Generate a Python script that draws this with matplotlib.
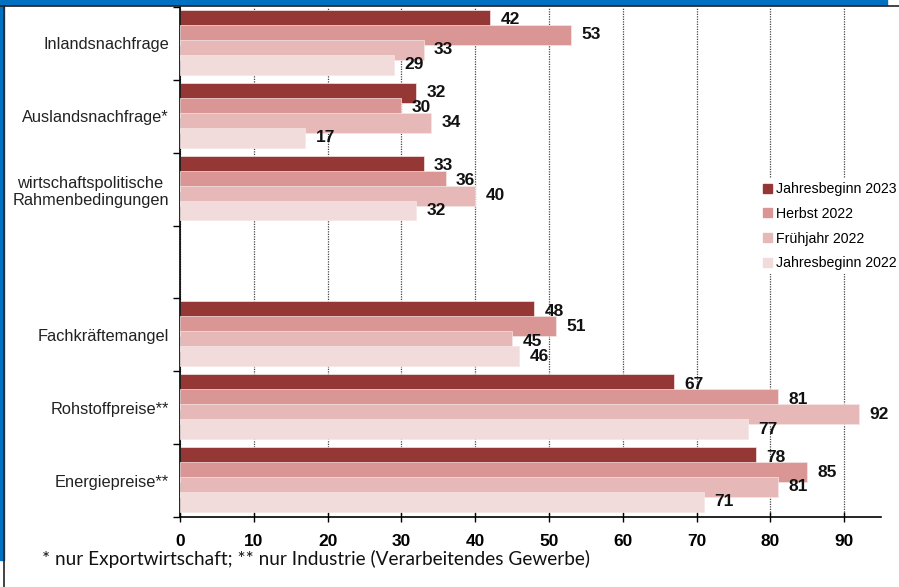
import matplotlib.pyplot as plt
import matplotlib
import numpy as np
from matplotlib.patches import Rectangle
from matplotlib.lines import Line2D

matplotlib.rcParams['font.family'] = ['Liberation Sans', 'DejaVu Sans']

# Categories (top to bottom), empty slot separates the two groups
categories = [
    'Inlandsnachfrage',
    'Auslandsnachfrage*',
    'wirtschaftspolitische\nRahmenbedingungen',
    '',
    'Fachkräftemangel',
    'Rohstoffpreise**',
    'Energiepreise**',
]
series_names = ['Jahresbeginn 2023', 'Herbst 2022', 'Frühjahr 2022', 'Jahresbeginn 2022']
jahresbeginn_2023 = [42, 32, 33, None, 48, 67, 78]
herbst_2022 = [53, 30, 36, None, 51, 81, 85]
fruehjahr_2022 = [33, 34, 40, None, 45, 92, 81]
jahresbeginn_2022 = [29, 17, 32, None, 46, 77, 71]
series_values = [jahresbeginn_2023, herbst_2022, fruehjahr_2022, jahresbeginn_2022]
colors = ['#953735', '#d99694', '#e6b9b8', '#f2dcdb']
footnote = '* nur Exportwirtschaft; ** nur Industrie (Verarbeitendes Gewerbe)'

W, H = 899, 587
fig = plt.figure(figsize=(W / 100, H / 100), dpi=100)

# slide frame: blue band on top and left, thin dark rule next to it
fig.patches.append(Rectangle((0, 1 - 5 / H), 887 / W, 5 / H, transform=fig.transFigure,
                             color='#0070c0', zorder=0))
fig.patches.append(Rectangle((0, 1 - 560 / H), 3.5 / W, 560 / H, transform=fig.transFigure,
                             color='#0070c0', zorder=0))
fig.lines.append(Line2D([0, 1], [1 - 5.5 / H] * 2, transform=fig.transFigure,
                        color='#222222', lw=1.2))
fig.lines.append(Line2D([4.2 / W] * 2, [0, 1 - 5.5 / H], transform=fig.transFigure,
                        color='#222222', lw=1.2))

ax = fig.add_axes([180 / W, 1 - 517 / H, (881 - 180) / W, (517 - 7) / H])

n = len(categories)
y = np.arange(n)
bar_h = 0.274
step = 0.205
first = -0.322

for k, (vals, col) in enumerate(zip(series_values, colors)):
    for i, v in enumerate(vals):
        if v is None:
            continue
        yc = y[i] + first + k * step
        ax.barh(yc, v, height=bar_h, color=col, edgecolor='#f6e6e6',
                linewidth=0.5, zorder=2 + k)
        ax.annotate(str(v), xy=(v, yc), xytext=(7.5, 0), textcoords='offset points',
                    va='center', ha='left', fontsize=12.5, fontweight='bold',
                    color='#111111', zorder=10)

ax.set_xlim(0, 95)
ax.set_ylim(n - 0.5, -0.5)

# x axis
ax.set_xticks(np.arange(0, 91, 10))
ax.tick_params(axis='x', direction='inout', length=7, width=1, pad=9,
               labelsize=12.5)
for lab in ax.get_xticklabels():
    lab.set_fontweight('bold')
ax.xaxis.grid(True, linestyle=(0, (1, 1)), color='#444444', linewidth=0.9, zorder=1)
ax.set_axisbelow(True)

# y axis: ticks on slot boundaries, labels in slot centres
ax.set_yticks(np.arange(-0.5, n, 1.0))
ax.set_yticklabels([])
ax.tick_params(axis='y', which='major', direction='out', length=5, width=1)
ax.set_yticks(y, minor=True)
ax.set_yticklabels(categories, minor=True, fontsize=11.8, color='#222222',
                   multialignment='center')
ax.tick_params(axis='y', which='minor', length=0, pad=8)

for s in ['top', 'right']:
    ax.spines[s].set_visible(False)
for s in ['left', 'bottom']:
    ax.spines[s].set_linewidth(1.2)

handles = [Rectangle((0, 0), 1, 1, color=c) for c in colors]
leg = ax.legend(handles, series_names, loc='upper left',
                bbox_to_anchor=(752 / W, 1 - 171 / H), bbox_transform=fig.transFigure,
                fontsize=10.2, frameon=True, facecolor='white', edgecolor='none',
                framealpha=1, fancybox=False, handlelength=0.6, handleheight=0.6,
                handletextpad=0.3, labelspacing=0.75, borderpad=0.3)
leg.set_zorder(20)

fig.text(42 / W, 1 - 559 / H, footnote, fontsize=13.7, family=['Lato', 'DejaVu Sans'],
         va='center', ha='left', color='#111111')

plt.savefig('out.png', dpi=100)
